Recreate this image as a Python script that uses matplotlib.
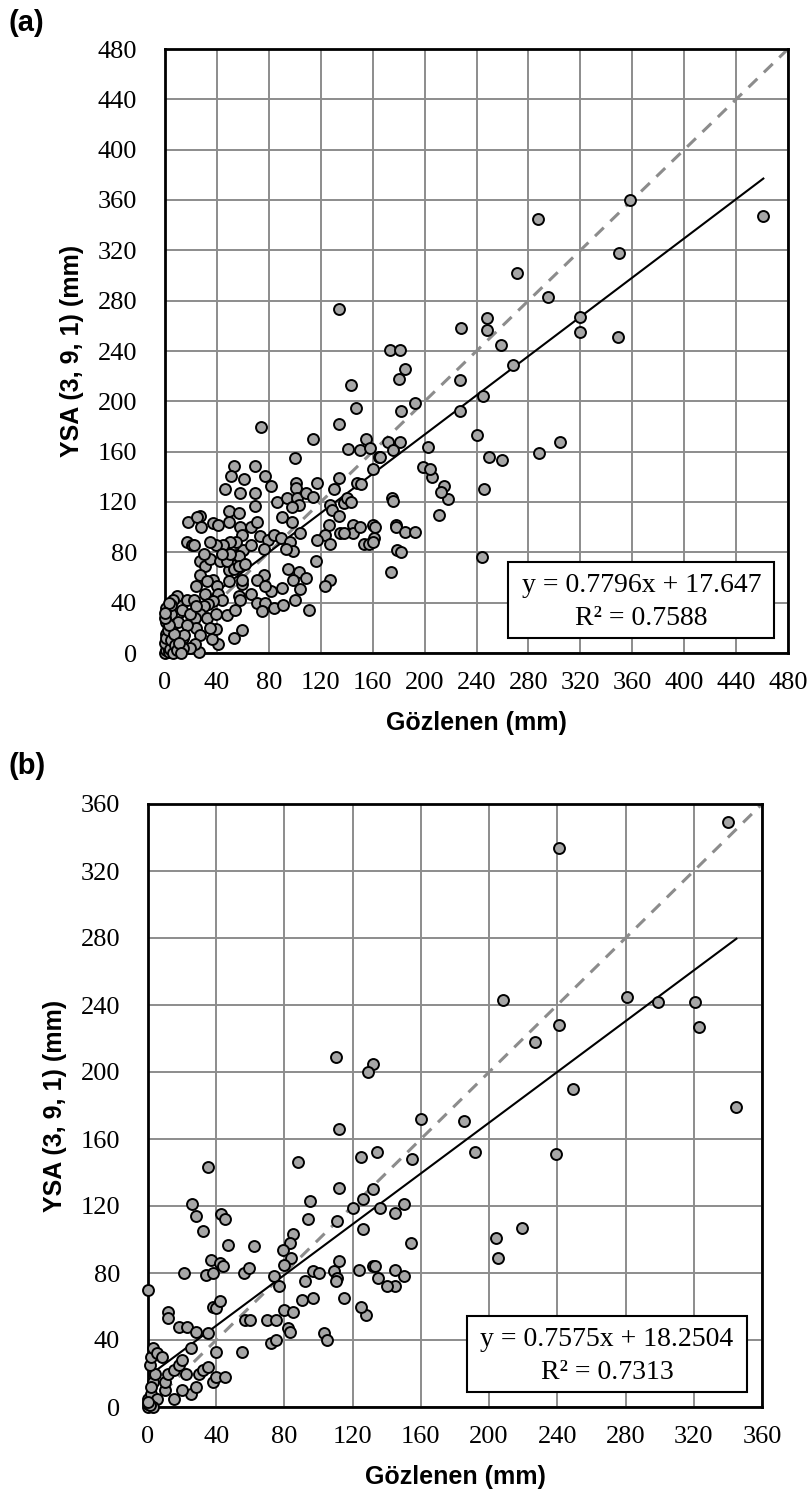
import numpy as np
import matplotlib.pyplot as plt
from matplotlib.patches import Rectangle

# ---- panel (a) data: observed vs ANN (3, 9, 1) ----
obs_a = [
    143, 147, 74, 134, 114, 155, 100, 141, 150, 158, 165, 160, 53, 51, 61, 69, 77, 82, 46, 58,
    69, 101, 101, 117, 134, 130, 148, 151, 175, 86, 94, 102, 103, 109, 114, 98, 69, 49, 57, 27,
    18, 25, 28, 37, 41, 49, 58, 66, 71, 90, 98, 104, 127, 129, 134, 138, 140, 126, 123, 117,
    127, 135, 145, 145, 153, 160, 161, 178, 179, 174, 116, 127, 123, 111, 100, 90, 95, 103, 109, 99,
    104, 82, 76, 71, 77, 66, 57, 58, 71, 77, 75, 84, 91, 59, 48, 54, 59, 53, 41, 36,
    26, 27, 31, 27, 35, 42, 49, 48, 37, 40, 32, 24, 31, 41, 49, 53, 55, 60, 66, 73,
    79, 84, 89, 96, 99, 93, 76, 59, 55, 50, 45, 39, 35, 17, 21, 22, 57, 57, 62, 50,
    44, 30, 59, 44, 37, 33, 30, 27, 23, 32, 39, 39, 35, 24, 27, 23, 19, 14, 13, 9,
    6, 17, 22, 5, 5, 4, 3, 1, 1, 1, 10, 10, 17, 14, 8, 19, 24, 15,
    0, 1, 2, 3, 0, 1, 4, 5, 6, 8, 2, 7, 3, 0, 9, 11, 12, 5, 3, 0,
    287, 461, 350, 271, 295, 320, 320, 349, 248, 248, 228, 259, 268, 173, 181, 185, 180, 227, 193, 182,
    227, 245, 240, 203, 250, 260, 288, 304, 199, 206, 172, 181, 176, 166, 358,
    178, 185, 193, 211, 215, 218, 213, 204, 244, 246, 182, 176, 157, 160, 162, 150, 143, 138, 134,
]
ann_a = [
    213, 195, 180, 182, 170, 170, 155, 162, 161, 163, 156, 146, 149, 141, 138, 149, 141, 133, 130, 127,
    127, 135, 131, 135, 139, 130, 135, 134, 123, 120, 123, 123, 118, 127, 124, 116, 117, 113, 111, 109,
    104, 108, 100, 103, 102, 104, 100, 100, 104, 108, 104, 95, 118, 114, 109, 119, 123, 102, 94, 90,
    87, 95, 102, 95, 87, 102, 91, 102, 82, 64, 73, 58, 53, 34, 42, 52, 67, 64, 60, 58,
    51, 49, 62, 58, 53, 47, 45, 42, 40, 40, 33, 36, 38, 55, 30, 34, 18, 12, 7, 11,
    1, 73, 69, 62, 75, 73, 66, 73, 58, 53, 57, 53, 47, 47, 57, 67, 78, 82, 86, 93,
    90, 94, 91, 88, 81, 83, 83, 94, 88, 88, 86, 86, 88, 88, 86, 86, 77, 69, 71, 79,
    79, 79, 58, 42, 41, 39, 37, 31, 28, 28, 31, 19, 20, 20, 14, 7, 4, 12, 34, 45,
    42, 42, 42, 31, 20, 7, 1, 15, 25, 36, 25, 9, 22, 4, 3, 31, 37, 14,
    0, 2, 5, 1, 8, 12, 3, 10, 0, 6, 18, 15, 22, 28, 2, 8, 0, 38, 40, 32,
    345, 347, 318, 302, 283, 267, 255, 251, 266, 257, 258, 245, 229, 241, 241, 226, 218, 217, 199, 192,
    192, 204, 173, 164, 156, 153, 159, 168, 148, 140, 168, 168, 161, 156, 360,
    100, 96, 96, 110, 133, 122, 128, 146, 76, 130, 80, 121, 87, 88, 100, 100, 120, 95, 273,
]

# ---- panel (b) data ----
obs_b = [
    340, 241, 208, 281, 299, 321, 323, 241, 227, 249, 345, 160, 185, 110, 132, 129, 112, 35, 88, 125,
    134, 112, 132, 126, 120, 136, 95, 94, 111, 126, 26, 28, 43, 45, 32, 47, 62, 85, 83, 79,
    84, 80, 74, 37, 42, 44, 21, 34, 38, 56, 59, 97, 109, 112, 124, 132, 111,
    192, 239, 204, 219, 205, 155, 150, 145, 154, 145, 150, 145, 135, 133, 128, 103, 105, 97, 92, 100,
    110, 115, 125, 140,
    0, 12, 12, 18, 23, 28, 35, 38, 40, 42, 57, 60, 70, 75, 72, 75, 77, 80, 85, 82,
    83, 90, 55,
    0, 0, 0, 1, 2, 3, 4, 1, 2, 3, 2, 5, 8, 10, 10, 12, 15, 18, 20, 22,
    25, 28, 20, 15, 5, 30, 32, 35, 38, 40, 45, 40, 25, 3, 1, 0,
]
ann_b = [
    349, 334, 243, 245, 242, 242, 227, 228, 218, 190, 179, 172, 171, 209, 205, 200, 166, 143, 146, 149,
    152, 131, 130, 124, 119, 119, 123, 112, 111, 106, 121, 114, 115, 112, 105, 97, 96, 103, 98, 94,
    89, 85, 78, 88, 86, 84, 80, 79, 80, 80, 83, 81, 81, 87, 82, 84, 77,
    152, 151, 101, 107, 89, 148, 121, 116, 98, 82, 78, 72, 77, 84, 55, 44, 40, 65, 75, 80,
    75, 65, 60, 72,
    70, 57, 53, 48, 48, 45, 44, 60, 59, 63, 52, 52, 52, 52, 38, 40, 72, 58, 57, 47,
    45, 64, 33,
    0, 2, 5, 3, 8, 15, 20, 25, 30, 35, 12, 32, 30, 10, 15, 20, 22, 25, 28, 20,
    8, 12, 10, 5, 5, 20, 22, 24, 15, 18, 18, 33, 35, 0, 1, 3,
]

fit_a = (0.7796, 17.647, "y = 0.7796x + 17.647", "R² = 0.7588")
fit_b = (0.7575, 18.2504, "y = 0.7575x + 18.2504", "R² = 0.7313")

tick_font = "Liberation Serif"
label_font = "Liberation Sans"


def draw_panel(ax, obs, ann, fit, lim, box):
    ax.set_xlim(0, lim)
    ax.set_ylim(0, lim)
    ticks = np.arange(0, lim + 1, 40)
    ax.set_xticks(ticks)
    ax.set_yticks(ticks)
    ax.grid(True, color="#8c8c8c", linewidth=1.4)
    ax.set_axisbelow(True)
    for s in ax.spines.values():
        s.set_linewidth(2.0)
        s.set_color("black")
    ax.tick_params(length=0, labelsize=19)
    ax.tick_params(axis="x", pad=14)
    ax.tick_params(axis="y", pad=20)
    for t in ax.get_xticklabels() + ax.get_yticklabels():
        t.set_fontfamily(tick_font)

    ax.plot([0, lim], [0, lim], color="#8c8c8c", linestyle=(0, (4, 3)), linewidth=2.2, zorder=2)
    xs = np.array([min(obs), max(obs)])
    ax.plot(xs, fit[0] * xs + fit[1], color="black", linewidth=1.5, zorder=2)
    ax.scatter(obs, ann, s=62, facecolor="#a6a6a6", edgecolor="black", linewidth=1.4, zorder=3,
               clip_on=False)

    x0, y0, w, h = box
    ax.add_patch(Rectangle((x0, y0), w, h, transform=ax.transAxes, facecolor="white",
                           edgecolor="black", linewidth=1.5, zorder=4))
    ax.text(x0 + w / 2, y0 + h * 0.69, fit[2], transform=ax.transAxes, ha="center", va="center",
            fontsize=20, fontfamily=tick_font, zorder=5)
    ax.text(x0 + w / 2, y0 + h * 0.25, fit[3], transform=ax.transAxes, ha="center", va="center",
            fontsize=20, fontfamily=tick_font, zorder=5)

    ax.set_xlabel("Gözlenen (mm)", fontsize=18, fontweight="bold", fontfamily=label_font, labelpad=12)
    ax.set_ylabel("YSA (3, 9, 1) (mm)", fontsize=18, fontweight="bold", fontfamily=label_font,
                  labelpad=10)


fig = plt.figure(figsize=(8.1, 15.09), dpi=100)
ax_a = fig.add_axes([165 / 810, 1 - 653 / 1509, 623 / 810, 604 / 1509])
ax_b = fig.add_axes([148 / 810, 1 - 1407 / 1509, 614 / 810, 603 / 1509])

draw_panel(ax_a, obs_a, ann_a, fit_a, 480, (0.551, 0.025, 0.427, 0.126))
draw_panel(ax_b, obs_b, ann_b, fit_b, 360, (0.52, 0.025, 0.455, 0.126))

fig.text(8 / 810, 1 - 23 / 1509, "(a)", fontsize=21, fontweight="bold", fontfamily=label_font,
         va="center")
fig.text(8 / 810, 1 - 766 / 1509, "(b)", fontsize=21, fontweight="bold", fontfamily=label_font,
         va="center")

fig.savefig("out.png", dpi=100)
